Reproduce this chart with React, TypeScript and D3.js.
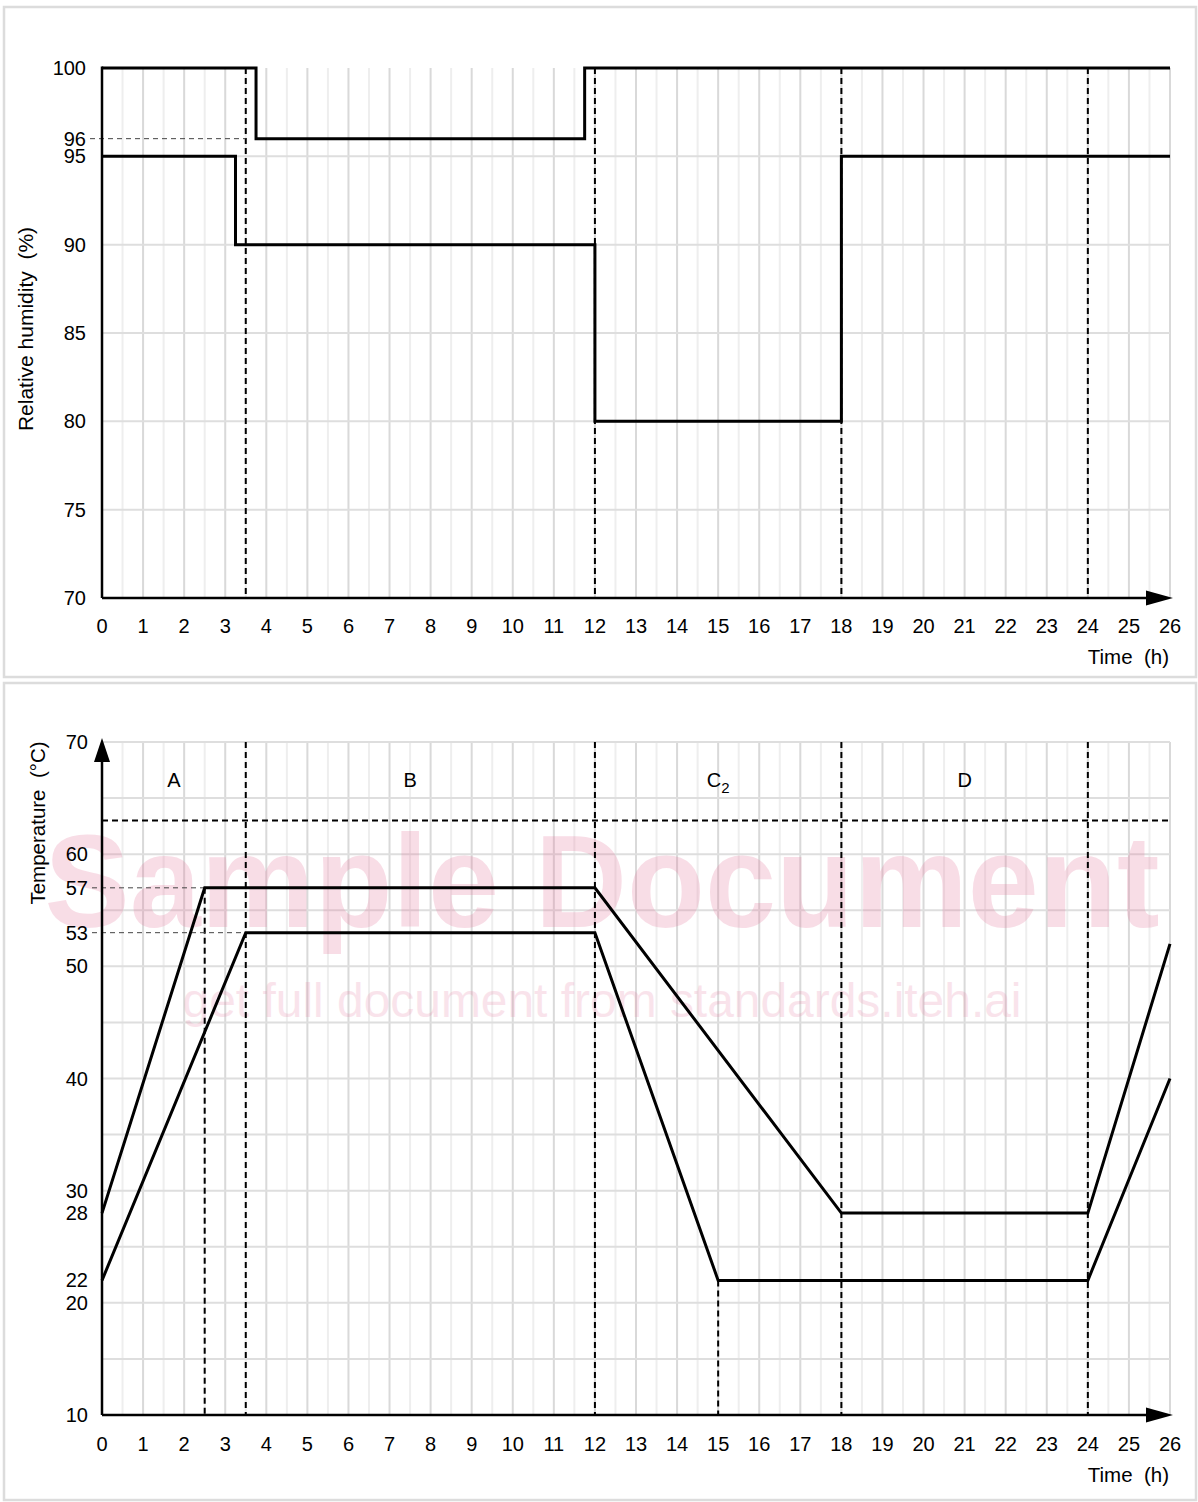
import React from 'react'
import * as d3 from 'd3'

// time axis (h)
const hourTicks = [0, 1, 2, 3, 4, 5, 6, 7, 8, 9, 10, 11, 12, 13, 14, 15, 16, 17, 18, 19, 20, 21, 22, 23, 24, 25, 26]

// relative humidity chart
const rhTicks = [100, 96, 95, 90, 85, 80, 75, 70]
const rhGrid = [95, 90, 85, 80, 75]
const rhUpperTime = [0, 3.75, 3.75, 11.75, 11.75, 26]
const rhUpperValue = [100, 100, 96, 96, 100, 100]
const rhLowerTime = [0, 3.25, 3.25, 12, 12, 18, 18, 26]
const rhLowerValue = [95, 95, 90, 90, 80, 80, 95, 95]
const rhPhaseTimes = [3.5, 12, 18, 24]

// temperature chart
const tempTicks = [70, 60, 57, 53, 50, 40, 30, 28, 22, 20, 10]
const tempGrid = [70, 65, 60, 55, 50, 45, 40, 35, 30, 25, 20, 15]
const tempUpperTime = [0, 2.5, 12, 18, 24, 26]
const tempUpperValue = [28, 57, 57, 28, 28, 52]
const tempLowerTime = [0, 3.5, 12, 15, 24, 26]
const tempLowerValue = [22, 53, 53, 22, 22, 40]
const tempPhaseTimes = [3.5, 12, 18, 24]
const tempLimit = 63
const phaseLabels = ['A', 'B', 'C', 'D']
const phaseLabelTimes = [1.75, 7.5, 15, 21]

const FONT = '"Liberation Sans", Arial, sans-serif'

const x = d3.scaleLinear().domain([0, 26]).range([102, 1170])
const yRh = d3.scaleLinear().domain([70, 100]).range([598, 68])
const yT = d3.scaleLinear().domain([10, 70]).range([1415, 742])

const halfHours = d3.range(0, 26.01, 0.5)

const VGrid = ({ y0, y1 }) => (
    <g>
        {halfHours.map(h => (
            <line key={h} x1={x(h)} x2={x(h)} y1={y0} y2={y1}
                stroke={Number.isInteger(h) ? '#d9d9d9' : '#eeeeee'} strokeWidth={2} />
        ))}
    </g>
)

const XLabels = ({ base }) => (
    <g fontSize={20} fontFamily={FONT} textAnchor="middle">
        {hourTicks.map(h => (
            <text key={h} x={x(h)} y={base}>{h}</text>
        ))}
    </g>
)

const App = () => {
    const rhLine = (ts, vs) => d3.line()(ts.map((t, i) => [x(t), yRh(vs[i])]))
    const tLine = (ts, vs) => d3.line()(ts.map((t, i) => [x(t), yT(vs[i])]))

    return (
        <svg width={1198} height={1502} style={{ position: 'absolute', left: 0, top: 0, background: '#fff' }}>
            {/* panels */}
            <rect x={4} y={7} width={1192} height={670} fill="#fff" stroke="#dcdcdc" strokeWidth={2.5} />
            <rect x={4} y={683} width={1192} height={817} fill="#fff" stroke="#dcdcdc" strokeWidth={2.5} />

            {/* ---------- humidity ---------- */}
            <VGrid y0={yRh(100)} y1={yRh(70)} />
            {rhGrid.map(v => (
                <line key={v} x1={x(0)} x2={x(26)} y1={yRh(v)} y2={yRh(v)} stroke="#dedede" strokeWidth={2} />
            ))}
            {rhPhaseTimes.map(t => (
                <line key={t} x1={x(t)} x2={x(t)} y1={yRh(100)} y2={yRh(70)} stroke="#000" strokeWidth={2} strokeDasharray="6,4" />
            ))}
            <line x1={90} x2={x(3.5)} y1={yRh(96)} y2={yRh(96)} stroke="#444" strokeWidth={1} strokeDasharray="5,4" />
            <path d={rhLine(rhUpperTime, rhUpperValue)} fill="none" stroke="#000" strokeWidth={3} />
            <path d={rhLine(rhLowerTime, rhLowerValue)} fill="none" stroke="#000" strokeWidth={3} />
            <line x1={x(0)} x2={x(0)} y1={yRh(100) - 1.5} y2={yRh(70)} stroke="#000" strokeWidth={2.5} />
            <line x1={x(0)} x2={1148} y1={yRh(70)} y2={yRh(70)} stroke="#000" strokeWidth={2.5} />
            <path d={`M1146,${yRh(70) - 7.5}L1173,${yRh(70)}L1146,${yRh(70) + 7.5}Z`} fill="#000" />
            <g fontSize={20} fontFamily={FONT} textAnchor="end">
                {rhTicks.map(v => (
                    <text key={v} x={86} y={yRh(v) + 7}>{v}</text>
                ))}
            </g>
            <XLabels base={633} />
            <text x={1169} y={664} fontSize={20.5} fontFamily={FONT} textAnchor="end" style={{ whiteSpace: 'pre' }}>Time  (h)</text>
            <text transform="translate(33,329) rotate(-90)" fontSize={21} fontFamily={FONT} textAnchor="middle" style={{ whiteSpace: 'pre' }}>Relative humidity  (%)</text>

            {/* ---------- temperature ---------- */}
            <VGrid y0={yT(70)} y1={yT(10)} />
            {tempGrid.map(v => (
                <line key={v} x1={x(0)} x2={x(26)} y1={yT(v)} y2={yT(v)} stroke="#dedede" strokeWidth={2} />
            ))}
            <g fontFamily={FONT} fontWeight="bold" textAnchor="middle" fill="#e6739a" opacity={0.24}>
                <text x={602} y={927} fontSize={132} textLength={1115} lengthAdjust="spacingAndGlyphs">Sample Document</text>
                <text x={602} y={1017} fontSize={48} fontWeight="normal" opacity={0.8} textLength={839} lengthAdjust="spacingAndGlyphs">get full document from standards.iteh.ai</text>
            </g>
            {tempPhaseTimes.map(t => (
                <line key={t} x1={x(t)} x2={x(t)} y1={yT(70)} y2={yT(10)} stroke="#000" strokeWidth={2} strokeDasharray="6,4" />
            ))}
            <line x1={x(2.5)} x2={x(2.5)} y1={yT(57)} y2={yT(10)} stroke="#000" strokeWidth={2} strokeDasharray="6,4" />
            <line x1={x(15)} x2={x(15)} y1={yT(22)} y2={yT(10)} stroke="#000" strokeWidth={2} strokeDasharray="6,4" />
            <line x1={x(0)} x2={x(26)} y1={yT(tempLimit)} y2={yT(tempLimit)} stroke="#000" strokeWidth={2} strokeDasharray="6,4" />
            <line x1={92} x2={x(2.5)} y1={yT(57)} y2={yT(57)} stroke="#444" strokeWidth={1} strokeDasharray="5,4" />
            <line x1={92} x2={x(3.5)} y1={yT(53)} y2={yT(53)} stroke="#444" strokeWidth={1} strokeDasharray="5,4" />
            <path d={tLine(tempUpperTime, tempUpperValue)} fill="none" stroke="#000" strokeWidth={3} />
            <path d={tLine(tempLowerTime, tempLowerValue)} fill="none" stroke="#000" strokeWidth={3} />
            <line x1={x(0)} x2={x(0)} y1={762} y2={yT(10)} stroke="#000" strokeWidth={2.5} />
            <path d={`M${x(0) - 8},762L${x(0)},738L${x(0) + 8},762Z`} fill="#000" />
            <line x1={x(0)} x2={1148} y1={yT(10)} y2={yT(10)} stroke="#000" strokeWidth={2.5} />
            <path d={`M1146,${yT(10) - 7.5}L1173,${yT(10)}L1146,${yT(10) + 7.5}Z`} fill="#000" />
            <g fontSize={20} fontFamily={FONT} textAnchor="end">
                {tempTicks.map(v => (
                    <text key={v} x={88} y={yT(v) + 7}>{v}</text>
                ))}
            </g>
            <g fontSize={20} fontFamily={FONT} textAnchor="middle">
                {phaseLabels.map((l, i) => (
                    <text key={l} x={x(phaseLabelTimes[i])} y={787}>
                        {l}
                        {l === 'C' && <tspan fontSize={15} dy={6}>2</tspan>}
                    </text>
                ))}
            </g>
            <XLabels base={1451} />
            <text x={1169} y={1482} fontSize={20.5} fontFamily={FONT} textAnchor="end" style={{ whiteSpace: 'pre' }}>Time  (h)</text>
            <text transform="translate(45,823) rotate(-90)" fontSize={20.5} fontFamily={FONT} textAnchor="middle" style={{ whiteSpace: 'pre' }}>Temperature  (°C)</text>
        </svg>
    )
}

export default App
